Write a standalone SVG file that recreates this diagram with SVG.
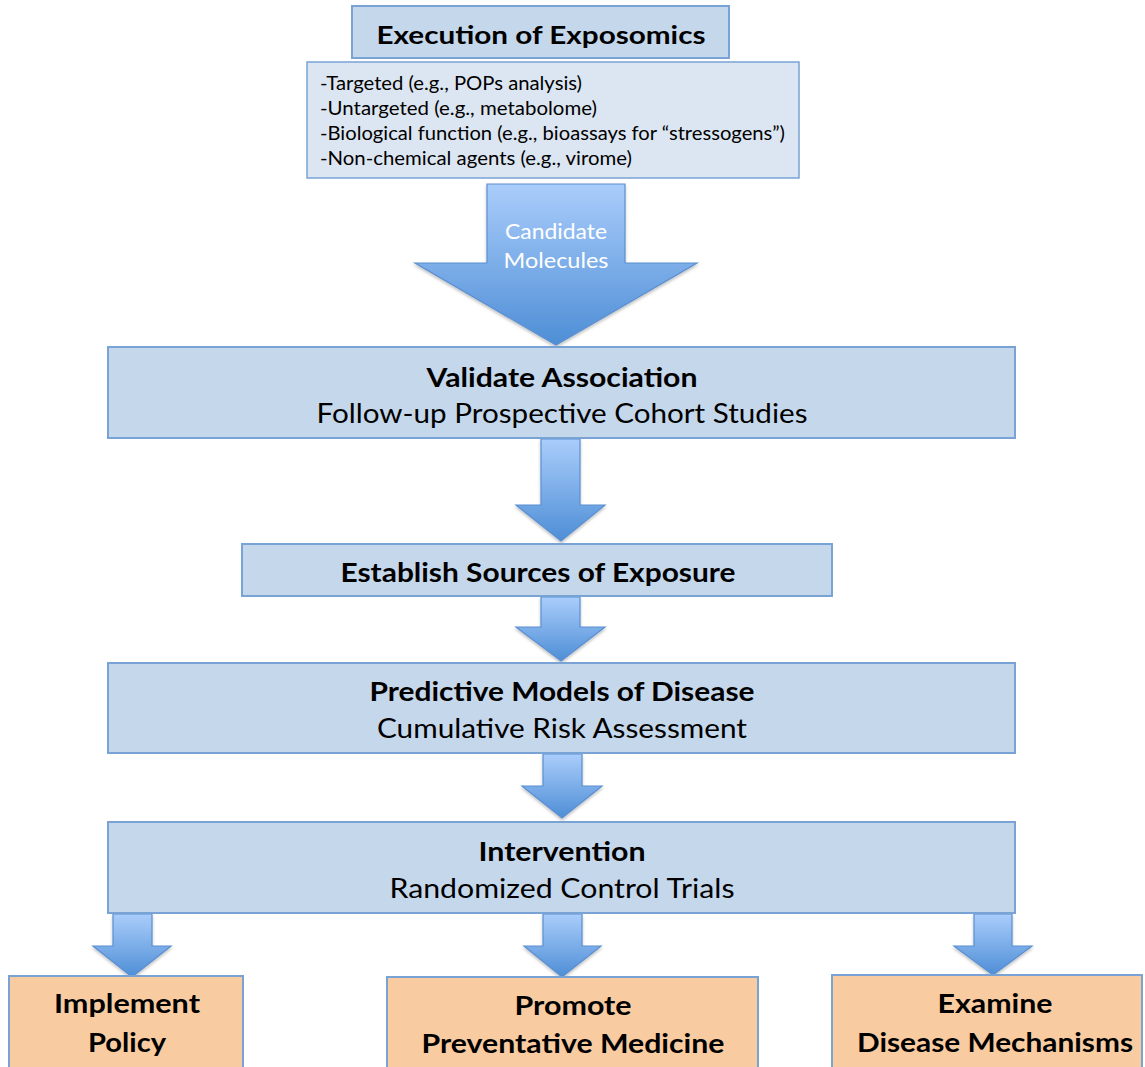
<svg xmlns="http://www.w3.org/2000/svg" width="1145" height="1067" viewBox="0 0 1145 1067">
<defs>
<linearGradient id="ag" x1="0" y1="0" x2="0" y2="1">
<stop offset="0" stop-color="#aacdfb"/>
<stop offset="1" stop-color="#4e8ed6"/>
</linearGradient>
<filter id="sh" x="-20%" y="-20%" width="140%" height="140%">
<feDropShadow dx="0" dy="2" stdDeviation="1.5" flood-color="#000" flood-opacity="0.25"/>
</filter>
<style>
.box{fill:#c5d7eb;stroke:#7aa3d5;stroke-width:2}
.list{fill:#dce6f2;stroke:#7aa3d5;stroke-width:1.5}
.out{fill:#f9cba1;stroke:#7aa3d5;stroke-width:2}
.arr{fill:url(#ag);stroke:#5b8fd0;stroke-width:1.2;filter:url(#sh)}
text{font-family:Lato,"Open Sans","Liberation Sans",sans-serif;fill:#000;text-anchor:middle}
.b{font-weight:bold}
.t26{font-size:26px}
.l{font-size:19.5px;text-anchor:start}
.w{fill:#fff;font-size:21px}
</style>
</defs>

<g id="connectors">
<path class="arr" d="M487,184 H625 V263 H697 L556,345 L415,263 H487 Z"/>
<path class="arr" d="M541,439 H580 V505 H605 L561,541 L516,505 H541 Z"/>
<path class="arr" d="M541,597 H580 V627 H605 L561,661 L516,627 H541 Z"/>
<path class="arr" d="M543,754 H582 V786 H602 L562,818 L522,786 H543 Z"/>
<path class="arr" d="M113,914 H152 V946 H171 L132,977 L93,946 H113 Z"/>
<path class="arr" d="M543,914 H582 V946 H601 L562,977 L524,946 H543 Z"/>
<path class="arr" d="M974,914 H1012 V946 H1032 L993,975 L954,946 H974 Z"/>
<text class="w" x="556" y="239" textLength="102" lengthAdjust="spacingAndGlyphs">Candidate</text>
<text class="w" x="556" y="268" textLength="105" lengthAdjust="spacingAndGlyphs">Molecules</text>
</g>

<g id="execution">
<rect class="box" x="352" y="6" width="377" height="52"/>
<text class="b" x="541" y="44" font-size="25" textLength="329" lengthAdjust="spacingAndGlyphs">Execution of Exposomics</text>
</g>

<g id="methods">
<rect class="list" x="307" y="62" width="492" height="116"/>
<text class="l" x="320" y="90" textLength="262" lengthAdjust="spacingAndGlyphs">-Targeted (e.g., POPs analysis)</text>
<text class="l" x="320" y="115" textLength="277" lengthAdjust="spacingAndGlyphs">-Untargeted (e.g., metabolome)</text>
<text class="l" x="320" y="140" textLength="465" lengthAdjust="spacingAndGlyphs">-Biological function (e.g., bioassays for “stressogens”)</text>
<text class="l" x="320" y="165" textLength="312" lengthAdjust="spacingAndGlyphs">-Non-chemical agents (e.g., virome)</text>
</g>

<g id="validate">
<rect class="box" x="108" y="347" width="907" height="91"/>
<text class="b t26" x="562" y="387" textLength="271" lengthAdjust="spacingAndGlyphs">Validate Association</text>
<text class="t26" x="562" y="423" textLength="491" lengthAdjust="spacingAndGlyphs">Follow-up Prospective Cohort Studies</text>
</g>

<g id="establish">
<rect class="box" x="242" y="544" width="590" height="52"/>
<text class="b t26" x="538" y="582" textLength="395" lengthAdjust="spacingAndGlyphs">Establish Sources of Exposure</text>
</g>

<g id="predictive">
<rect class="box" x="108" y="663" width="907" height="90"/>
<text class="b t26" x="562" y="701" textLength="385" lengthAdjust="spacingAndGlyphs">Predictive Models of Disease</text>
<text class="t26" x="562" y="738" textLength="370" lengthAdjust="spacingAndGlyphs">Cumulative Risk Assessment</text>
</g>

<g id="intervention">
<rect class="box" x="108" y="822" width="907" height="91"/>
<text class="b t26" x="562" y="861" textLength="167" lengthAdjust="spacingAndGlyphs">Intervention</text>
<text class="t26" x="562" y="898" textLength="345" lengthAdjust="spacingAndGlyphs">Randomized Control Trials</text>
</g>

<g id="policy">
<rect class="out" x="9" y="976" width="234" height="100"/>
<text class="b t26" x="127" y="1013" textLength="146" lengthAdjust="spacingAndGlyphs">Implement</text>
<text class="b t26" x="127" y="1052" textLength="78" lengthAdjust="spacingAndGlyphs">Policy</text>
</g>

<g id="medicine">
<rect class="out" x="387" y="977" width="371" height="100"/>
<text class="b t26" x="573" y="1015" textLength="117" lengthAdjust="spacingAndGlyphs">Promote</text>
<text class="b t26" x="573" y="1053" textLength="303" lengthAdjust="spacingAndGlyphs">Preventative Medicine</text>
</g>

<g id="mechanisms">
<rect class="out" x="832" y="975" width="310" height="100"/>
<text class="b t26" x="995" y="1013" textLength="115" lengthAdjust="spacingAndGlyphs">Examine</text>
<text class="b t26" x="995" y="1052" textLength="276" lengthAdjust="spacingAndGlyphs">Disease Mechanisms</text>
</g>
</svg>
